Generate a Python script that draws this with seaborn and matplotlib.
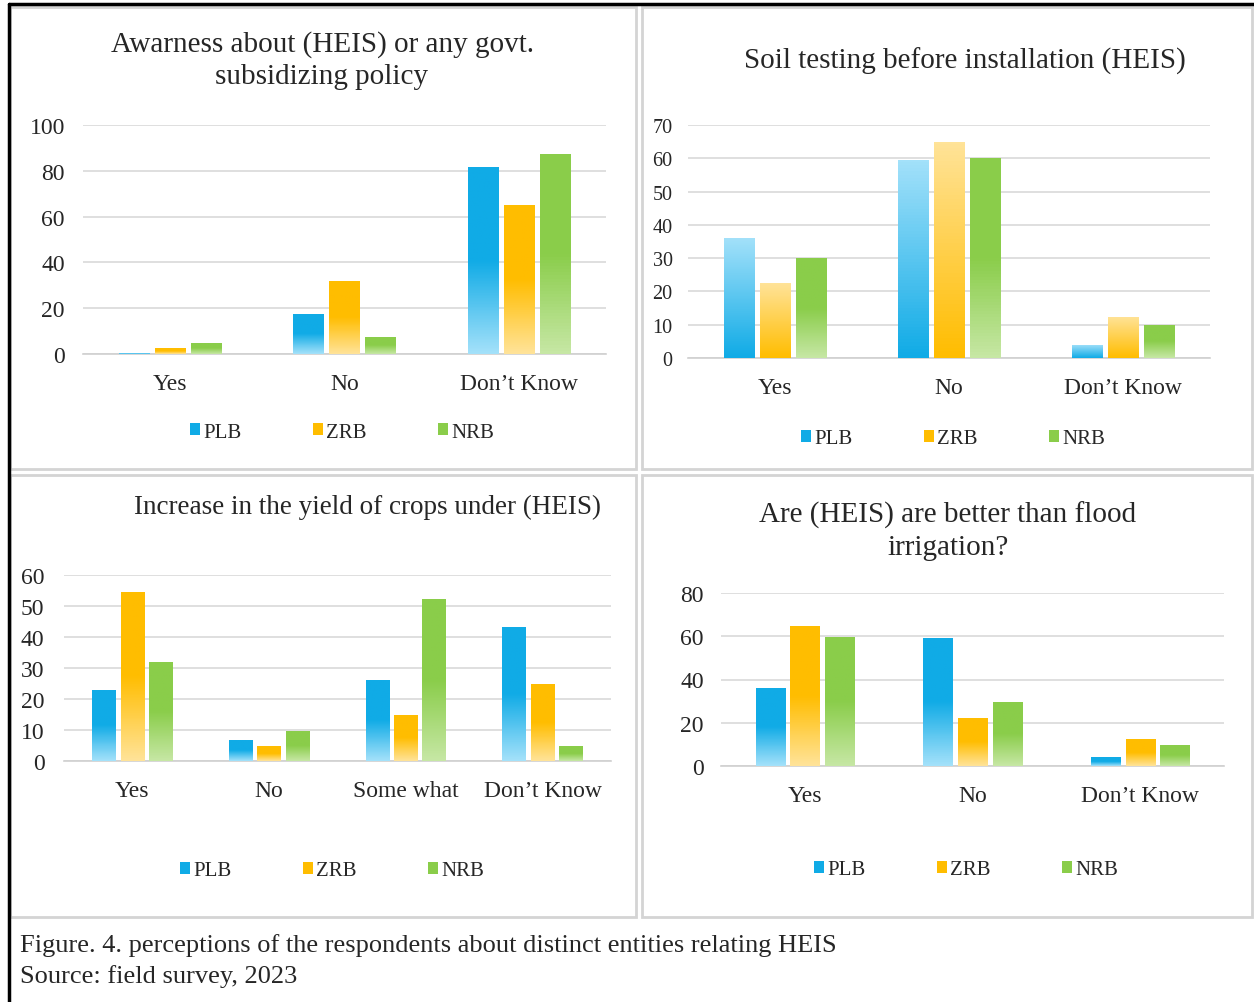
import numpy as np
import pandas as pd
import seaborn as sns
import matplotlib.pyplot as plt
from matplotlib.colors import LinearSegmentedColormap
from matplotlib.patches import Patch, Rectangle
from matplotlib.lines import Line2D

series = ["PLB", "ZRB", "NRB"]

aware_cats = ["Yes", "No", "Don\u2019t Know"]
aware_plb = [0.5, 17.5, 81.5]
aware_zrb = [2.5, 32, 65]
aware_nrb = [5, 7.5, 87.5]

soil_cats = ["Yes", "No", "Don\u2019t Know"]
soil_plb = [36.2, 59.5, 4]
soil_zrb = [22.5, 65, 12.4]
soil_nrb = [30, 60, 10]

yield_cats = ["Yes", "No", "Some what", "Don\u2019t Know"]
yield_plb = [23, 6.8, 26.2, 43.2]
yield_zrb = [54.6, 4.8, 14.9, 24.8]
yield_nrb = [32, 9.8, 52.1, 4.8]

better_cats = ["Yes", "No", "Don\u2019t Know"]
better_plb = [36.2, 59.3, 4]
better_zrb = [64.7, 22.3, 12.3]
better_nrb = [59.8, 29.7, 9.9]

colors = {"PLB": "#10abe6", "ZRB": "#ffbd00", "NRB": "#8acd4a"}
light = {"PLB": "#a3e1fa", "ZRB": "#ffe398", "NRB": "#c6e7a4"}

sns.set_theme(style="white")
plt.rcParams["font.family"] = ["Liberation Serif", "DejaVu Serif"]

W, H = 1254, 1003
fig = plt.figure(figsize=(W / 100, H / 100), dpi=100)


def px_rect(x0, y0, x1, y1):
    return [x0 / W, 1 - y1 / H, (x1 - x0) / W, (y1 - y0) / H]


def long_frame(cats, plb, zrb, nrb):
    rows = []
    for name, vals in zip(series, [plb, zrb, nrb]):
        for c, v in zip(cats, vals):
            rows.append({"cat": c, "region": name, "value": v})
    return pd.DataFrame(rows)


def shade_bars(ax, dark_top):
    # replace flat fill with a vertical gradient clipped to each bar
    for cont, name in zip(ax.containers, series):
        top_first = dark_top[name]
        c_top = colors[name] if top_first else light[name]
        c_bot = light[name] if top_first else colors[name]
        cmap = LinearSegmentedColormap.from_list(name, [c_bot, colors[name], c_top]
                                                 if top_first else [c_bot, c_top])
        grad = np.linspace(0, 1, 64).reshape(-1, 1)
        for bar in cont:
            x, w, h = bar.get_x(), bar.get_width(), bar.get_height()
            im = ax.imshow(grad, cmap=cmap, extent=[x, x + w, 0, h], origin="lower",
                           aspect="auto", zorder=3)
            im.set_clip_path(bar)
            bar.set_facecolor("none")
            bar.set_edgecolor("none")


def panel(rect, cats, plb, zrb, nrb, ymax, step, dark_top, tick_fs=17, ypad=13):
    ax = fig.add_axes(rect)
    df = long_frame(cats, plb, zrb, nrb)
    sns.barplot(data=df, x="cat", y="value", hue="region", palette=colors,
                width=0.62, gap=0.16, ax=ax, legend=False, zorder=3)
    shade_bars(ax, dark_top)
    ax.set_xlim(-0.5, len(cats) - 0.5)
    ax.set_ylim(0, ymax)
    ax.set_yticks(np.arange(0, ymax + 1, step))
    ax.grid(axis="y", color="#d9d9d9", linewidth=1.2, zorder=0)
    ax.set_axisbelow(True)
    for s in ["top", "right", "left"]:
        ax.spines[s].set_visible(False)
    ax.spines["bottom"].set_color("#d0d0d0")
    ax.spines["bottom"].set_linewidth(1.2)
    ax.tick_params(axis="y", length=0, labelsize=tick_fs, colors="#262626", pad=ypad)
    ax.tick_params(axis="x", length=0, labelsize=17, colors="#262626", pad=14)
    ax.set_xlabel("")
    ax.set_ylabel("")
    return ax


def legend_at(xc, yc, fs=15):
    handles = [Patch(facecolor=colors[s], edgecolor="none") for s in series]
    fig.legend(handles, series, loc="center", bbox_to_anchor=(xc / W, 1 - yc / H),
               ncol=3, frameon=False, fontsize=fs, handlelength=0.5, handleheight=0.5,
               handletextpad=0.15, columnspacing=3.4, labelcolor="#262626")


# panel frames and outer border
for x0, y0, x1, y1 in [(10, 8, 636, 470), (642, 8, 1252, 470),
                       (10, 476, 636, 918), (642, 476, 1252, 918)]:
    fig.patches.append(Rectangle((x0 / W, 1 - y1 / H), (x1 - x0) / W, (y1 - y0) / H,
                                 transform=fig.transFigure, fill=False,
                                 edgecolor="#d4d4d4", linewidth=2))
fig.add_artist(Line2D([9 / W, 9 / W], [0, 1 - 5 / H], transform=fig.transFigure,
                      color="black", linewidth=2.5))
fig.add_artist(Line2D([9 / W, 1], [1 - 5 / H, 1 - 5 / H], transform=fig.transFigure,
                      color="black", linewidth=2.5))

# panel 1
panel(px_rect(83, 126, 606, 355), aware_cats, aware_plb, aware_zrb, aware_nrb, 100, 20,
      {"PLB": True, "ZRB": True, "NRB": True})
fig.text(322 / W, 1 - 61 / H, "Awarness about (HEIS) or any govt.\nsubsidizing policy",
         ha="center", va="center", fontsize=21, color="#262626", linespacing=1.3)
legend_at(342, 433)

# panel 2
panel(px_rect(688, 126, 1210, 359), soil_cats, soil_plb, soil_zrb, soil_nrb, 70, 10,
      {"PLB": False, "ZRB": False, "NRB": True}, tick_fs=14.5, ypad=11)
fig.text(965 / W, 1 - 61 / H, "Soil testing before installation (HEIS)",
         ha="center", va="center", fontsize=21, color="#262626")
legend_at(953, 440)

# panel 3
panel(px_rect(64, 576, 611, 762), yield_cats, yield_plb, yield_zrb, yield_nrb, 60, 10,
      {"PLB": True, "ZRB": True, "NRB": True}, ypad=14)
fig.text(367 / W, 1 - 507 / H, "Increase in the yield of crops under (HEIS)",
         ha="center", va="center", fontsize=19.5, color="#262626")
legend_at(332, 872)

# panel 4
panel(px_rect(721, 594, 1224, 767), better_cats, better_plb, better_zrb, better_nrb, 80, 20,
      {"PLB": True, "ZRB": True, "NRB": True}, ypad=12.5)
fig.text(948 / W, 1 - 531 / H, "Are (HEIS) are better than flood\nirrigation?",
         ha="center", va="center", fontsize=21, color="#262626", linespacing=1.3)
legend_at(966, 871)

fig.text(20 / W, 1 - 946 / H,
         "Figure. 4. perceptions of the respondents about distinct entities relating HEIS",
         ha="left", va="center", fontsize=19, color="#262626")
fig.text(20 / W, 1 - 977 / H, "Source: field survey, 2023",
         ha="left", va="center", fontsize=19, color="#262626")

fig.savefig("out.png", dpi=100)
